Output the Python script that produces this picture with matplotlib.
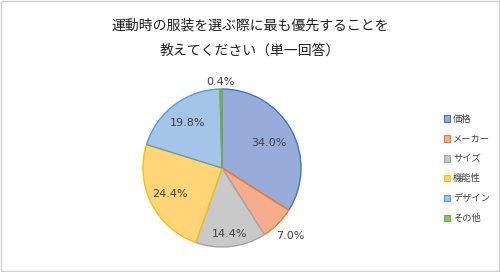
import matplotlib
matplotlib.use("Agg")
import matplotlib.pyplot as plt
import numpy as np
from matplotlib.patches import Rectangle

plt.rcParams['font.family'] = ['Noto Sans CJK JP', 'DejaVu Sans']

categories = ["価格", "メーカー", "サイズ", "機能性", "デザイン", "その他"]
values = [34.0, 7.0, 14.4, 24.4, 19.8, 0.4]
title = "運動時の服装を選ぶ際に最も優先することを\n教えてください（単一回答）"

fills = ["#98acdc", "#f5ad8c", "#c9c9c9", "#ffd578", "#a4c4e8", "#8fc268"]
edges = ["#4472c4", "#ed7d31", "#a5a5a5", "#ffc000", "#5b9bd5", "#70ad47"]
label_r = [0.67, 1.22, 0.84, 0.74, 0.72, 1.09]

fig = plt.figure(figsize=(5, 2.72), dpi=100)
ax = fig.add_axes([0, 0, 1, 1])

cx, cy, R = 222, 104, 79
wedges, _ = ax.pie(values, colors=fills, startangle=90, counterclock=False,
                   center=(cx, cy), radius=R, frame=True,
                   wedgeprops=dict(linewidth=1.0))
for w, e in zip(wedges, edges):
    w.set_edgecolor(e)
ax.set_xlim(0, 500)
ax.set_ylim(0, 272)
ax.set_aspect('equal')
ax.axis('off')

for w, v, lr in zip(wedges, values, label_r):
    ang = np.deg2rad((w.theta1 + w.theta2) / 2)
    x = cx + lr * R * np.cos(ang)
    y = cy + lr * R * np.sin(ang)
    ax.text(x, y, f"{v:.1f}%", ha='center', va='center', fontsize=8,
            color='#404040', family='DejaVu Sans')

fig.text(0.5, 0.86, title, ha='center', va='center', fontsize=10,
         color='#202020', linespacing=1.95)

handles = [Rectangle((0, 0), 1, 1, facecolor=f, edgecolor=e, linewidth=0.8)
           for f, e in zip(fills, edges)]
leg = fig.legend(handles, categories, loc='upper left',
                 bbox_to_anchor=(0.88, 0.592), frameon=False,
                 fontsize=6.7, handlelength=0.7, handleheight=0.7,
                 handletextpad=0.3, labelspacing=1.17, borderaxespad=0)
for t in leg.get_texts():
    t.set_color('#404040')

fig.patches.append(Rectangle((0.002, 0.004), 0.996, 0.992, transform=fig.transFigure,
                             fill=False, edgecolor='#d0d0d0', linewidth=1.0))

fig.savefig("out.png", dpi=100)
